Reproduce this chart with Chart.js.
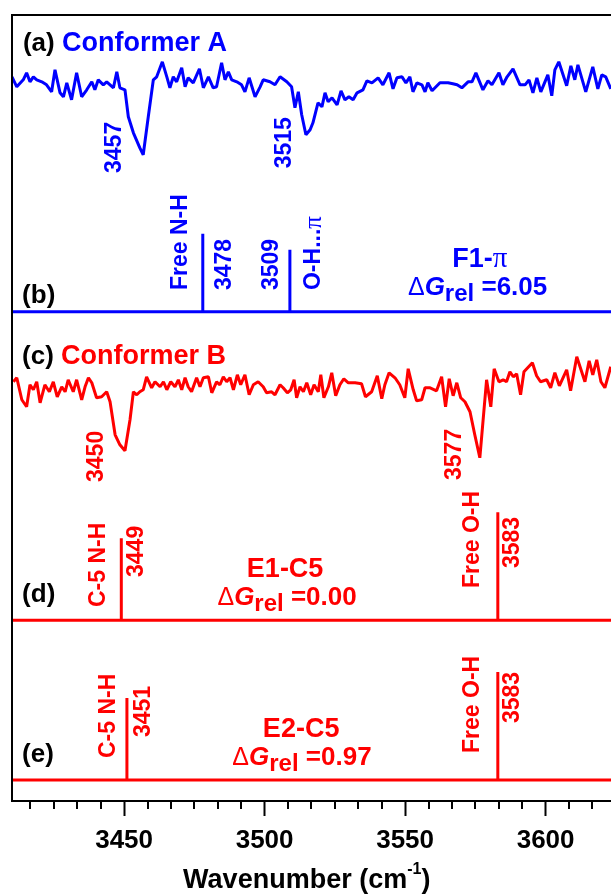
<!DOCTYPE html>
<html>
<head>
<meta charset="utf-8">
<script src="https://cdn.jsdelivr.net/npm/chart.js@4.4.0/dist/chart.umd.min.js"></script>
<style>
html, body { margin: 0; padding: 0; background: #fff; overflow: hidden; }
#spectra { display: block; }
</style>
</head>
<body>
<canvas id="spectra" width="640" height="896"></canvas>
<script>
// wavenumber range shown (cm-1)
const xMin = 3410.1
const xMax = 3633.6
const majorStep = 50
const minorStep = 50 / 6

// (a) conformer A, IR-UV depletion trace, arb. units, baseline 0
const waveA = [3410.1,3411.8,3414.1,3415.3,3416.5,3417.7,3418.9,3420.7,3422.4,3424.2,
3425.4,3427.2,3428.4,3429.6,3431.3,3433.1,3434.9,3436.7,3438.5,3439.6,
3440.8,3442.6,3443.8,3446.2,3447.4,3448.5,3450.3,3451.5,3453.3,3455.6,
3456.8,3458.6,3460.4,3461.6,3463.6,3465.2,3466.3,3467.5,3468.7,3470.5,
3471.7,3472.8,3474.6,3476.8,3478.2,3480.0,3481.7,3482.9,3484.7,3485.9,
3487.1,3488.3,3490.1,3491.8,3493.0,3494.5,3496.6,3498.4,3499.5,3501.9,
3503.7,3505.5,3507.9,3509.6,3510.8,3512.0,3513.2,3514.7,3516.2,3517.2,
3519.0,3520.4,3521.5,3522.6,3524.0,3525.8,3527.2,3528.6,3530.0,3531.5,
3532.9,3535.0,3536.4,3538.2,3540.4,3542.1,3544.3,3545.7,3547.1,3548.9,
3550.3,3551.7,3552.8,3554.2,3556.0,3557.1,3558.1,3559.6,3562.4,3565.3,
3567.0,3568.5,3570.2,3572.4,3573.8,3575.2,3577.7,3579.5,3580.9,3583.4,
3584.8,3586.3,3588.4,3590.9,3592.7,3594.1,3595.5,3596.9,3598.3,3600.8,
3602.2,3603.3,3604.7,3607.5,3609.0,3610.4,3611.5,3614.3,3616.8,3618.6,
3620.0,3621.4,3623.2]
const signalA = [5,-5,2,9,0,5,2,0,-3,-10,
12,-11,-15,-1,-18,9,-15,-8,0,-8,
2,-3,0,-6,10,-6,-8,-35,-51,-66,
-73,-35,2,5,20,5,-6,5,0,14,
-5,4,-1,13,-6,5,-6,-5,19,2,
10,2,0,-3,-10,4,-15,-5,2,0,
-3,5,0,-5,-26,-10,-33,-53,-48,-41,
-21,-25,-11,-20,-16,-23,-9,-18,-15,-18,
-11,-8,1,-1,4,-3,9,-7,4,5,
-1,5,-10,-1,-3,-10,-1,-9,-1,-1,
-2,-3,-6,0,0,9,-8,1,-3,9,
-3,5,13,-3,-3,2,-11,4,-10,7,
-14,12,20,-4,16,2,17,-10,15,-7,
7,5,-7]

// (c) conformer B
const waveB = [3410.6,3411.8,3413.6,3415.3,3416.5,3417.7,3418.9,3420.1,3421.8,3423.4,
3424.8,3426.2,3427.8,3429.0,3430.1,3431.9,3433.1,3434.9,3436.1,3437.3,
3438.5,3440.2,3442.0,3443.8,3445.0,3446.8,3448.5,3450.3,3452.1,3453.3,
3454.5,3455.6,3456.8,3458.0,3459.8,3461.0,3462.8,3464.0,3465.2,3466.6,
3468.1,3469.3,3470.5,3471.7,3472.8,3474.0,3475.8,3477.0,3478.2,3480.0,
3481.2,3482.9,3484.1,3485.3,3486.5,3487.7,3488.9,3490.3,3491.5,3493.0,
3494.5,3496.0,3497.7,3499.5,3500.7,3502.5,3503.7,3505.5,3506.6,3508.1,
3509.3,3510.5,3511.4,3512.6,3513.8,3515.0,3516.4,3517.6,3519.1,3520.0,
3521.1,3522.7,3523.9,3525.3,3526.8,3528.2,3529.8,3532.2,3534.5,3535.9,
3538.1,3540.1,3541.7,3542.8,3544.3,3546.4,3548.1,3549.9,3551.1,3552.9,
3554.1,3555.9,3557.1,3558.9,3561.2,3563.0,3564.4,3565.7,3567.1,3568.4,
3569.8,3571.3,3573.1,3574.8,3576.6,3579.0,3580.5,3581.7,3583.4,3584.9,
3586.1,3587.3,3588.5,3589.7,3591.1,3592.3,3595.3,3596.8,3598.2,3600.4,
3601.8,3603.3,3604.9,3607.5,3608.9,3611.1,3614.0,3615.5,3616.8,3618.2,
3619.7,3621.1,3623.2]
const signalB = [5,9,-13,-20,2,-3,5,-16,2,-5,
5,-10,0,-5,7,-5,7,-13,0,9,
4,-11,-10,-5,-15,-48,-58,-64,-33,-5,
-8,-5,-3,10,-1,5,0,5,-3,5,
0,7,-3,9,0,-5,9,0,9,10,
-6,5,2,10,5,9,-3,12,2,12,
-8,2,5,0,-6,-5,-8,2,-1,-6,
-3,7,-11,0,-5,4,-8,2,-5,12,
-11,0,14,-9,2,8,4,4,3,-10,
-5,11,-12,2,14,9,2,-11,18,-3,
-14,-13,-1,-1,-4,10,-20,8,-9,4,
-11,-15,-25,-48,-71,7,-20,18,5,7,
5,15,10,13,-8,15,24,11,5,7,
-1,14,1,17,-4,30,5,26,12,27,
5,-1,20]

// calculated harmonic frequencies (sticks) and relative intensities
const sticksF1 = [3478, 3509]
const intensF1 = [78, 62]
const sticksE1 = [3449, 3583]
const intensE1 = [82, 108]
const sticksE2 = [3451, 3583]
const intensE2 = [82, 108]

// stacking: baseline of each panel on a 0-100 display axis, and intensity scale
const offsetA = 91.5
const offsetF1 = 62.25
const offsetB = 52.7
const offsetE1 = 23.0
const offsetE2 = 2.67
const scaleY = 1 / 7.86

const BLUE = "#0000ff"
const RED = "#ff0000"
const BLACK = "#000000"
const SANS = '"Liberation Sans", Arial, Helvetica, sans-serif'
const SERIF = '"Liberation Serif", "Times New Roman", serif'

function trace(waves, signal, offset) {
    return waves.map((w, i) => ({ x: w, y: offset + signal[i] * scaleY }))
}

function sticks(pos, heights, offset) {
    const pts = [{ x: xMin, y: offset }]
    pos.forEach((p, i) => {
        pts.push({ x: p, y: offset }, { x: p, y: offset + heights[i] * scaleY }, { x: p, y: offset })
    })
    pts.push({ x: xMax, y: offset })
    return pts
}

function lineSet(data, color) {
    return {
        data: data,
        borderColor: color,
        borderWidth: 3,
        pointRadius: 0,
        tension: 0,
        fill: false,
        borderJoinStyle: "bevel"
    }
}

function drawRuns(ctx, runs, x, y, align) {
    let total = 0
    runs.forEach(r => {
        ctx.font = r.font
        r.w = ctx.measureText(r.text).width
        total += r.w
    })
    let cx = align == "center" ? x - total / 2 : x
    runs.forEach(r => {
        ctx.font = r.font
        ctx.fillStyle = r.color
        ctx.fillText(r.text, cx, y + (r.dy || 0))
        cx += r.w
    })
}

function b(size) { return `bold ${size}px ${SANS}` }

function deltaG(value, color) {
    return [
        { text: "\u0394", font: `normal 25px ${SANS}`, color: color },
        { text: "G", font: `italic bold 26px ${SANS}`, color: color },
        { text: "rel", font: b(24), color: color, dy: 6 },
        { text: " =" + value, font: b(26), color: color }
    ]
}

const annotations = {
    id: "annotations",
    afterDatasetsDraw(chart) {
        const ctx = chart.ctx
        const xs = chart.scales.x
        const ys = chart.scales.y
        const area = chart.chartArea
        const at = (w, v) => [xs.getPixelForValue(w), ys.getPixelForValue(v)]

        ctx.save()
        // frame
        ctx.strokeStyle = BLACK
        ctx.lineWidth = 2
        ctx.strokeRect(area.left, area.top, area.right - area.left, area.bottom - area.top)

        // minor ticks
        ctx.beginPath()
        for (let v = 3450 - 4 * minorStep; v < xMax; v += minorStep) {
            if (Math.abs((v - 3450) / majorStep - Math.round((v - 3450) / majorStep)) < 1e-6) continue
            const px = Math.round(xs.getPixelForValue(v))
            ctx.moveTo(px, area.bottom)
            ctx.lineTo(px, area.bottom + 8)
        }
        ctx.stroke()

        // horizontal texts
        ctx.textBaseline = "alphabetic"
        const left = (runs, w, v) => { const p = at(w, v); drawRuns(ctx, runs, p[0], p[1], "left") }
        const center = (runs, w, v) => { const p = at(w, v); drawRuns(ctx, runs, p[0], p[1], "center") }

        left([{ text: "(a) ", font: b(26), color: BLACK }, { text: "Conformer A", font: b(27), color: BLUE }], 3414.0, 95.4)
        left([{ text: "(b)", font: b(26), color: BLACK }], 3413.7, 63.4)
        left([{ text: "(c) ", font: b(26), color: BLACK }, { text: "Conformer B", font: b(27), color: RED }], 3413.7, 55.6)
        left([{ text: "(d)", font: b(26), color: BLACK }], 3413.7, 25.3)
        left([{ text: "(e)", font: b(26), color: BLACK }], 3413.7, 4.9)

        center([{ text: "F1-", font: b(27), color: BLUE }, { text: "\u03c0", font: `normal 29px ${SERIF}`, color: BLUE }], 3576.6, 68.0)
        center(deltaG("6.05", BLUE), 3575.8, 64.38)
        center([{ text: "E1-C5", font: b(27), color: RED }], 3507.3, 28.5)
        center(deltaG("0.00", RED), 3508.0, 25.0)
        center([{ text: "E2-C5", font: b(27), color: RED }], 3513.0, 8.2)
        center(deltaG("0.97", RED), 3513.3, 4.6)

        // axis title with superscript
        center([
            { text: "Wavenumber (cm", font: b(27), color: BLACK },
            { text: "-1", font: b(16), color: BLACK, dy: -14 },
            { text: ")", font: b(27), color: BLACK }
        ], 3515.0, -11.1)

        // vertical texts
        const up = (runs, w, v) => {
            const p = at(w, v)
            ctx.save()
            ctx.translate(p[0], p[1])
            ctx.rotate(-Math.PI / 2)
            ctx.textBaseline = "middle"
            drawRuns(ctx, runs, 0, 0, "left")
            ctx.restore()
        }
        const one = (text, color) => [{ text: text, font: b(23), color: color }]

        up(one("3457", BLUE), 3446.8, 79.9)
        up(one("3515", BLUE), 3507.3, 80.5)
        up(one("Free N-H", BLUE), 3470.2, 65.01)
        up(one("3478", BLUE), 3485.7, 65.01)
        up(one("3509", BLUE), 3502.6, 65.01)
        up([{ text: "O-H...", font: b(23), color: BLUE }, { text: "\u03c0", font: `normal 25px ${SERIF}`, color: BLUE }], 3517.6, 65.01)

        up(one("3450", RED), 3440.4, 40.59)
        up(one("3577", RED), 3567.8, 40.84)

        up(one("C-5 N-H", RED), 3441.1, 24.68)
        up(one("3449", RED), 3454.3, 28.5)
        up(one("Free O-H", RED), 3574.2, 27.1)
        up(one("3583", RED), 3588.4, 29.64)

        up(one("C-5 N-H", RED), 3444.6, 5.47)
        up(one("3451", RED), 3457.0, 8.14)
        up(one("Free O-H", RED), 3574.2, 6.11)
        up(one("3583", RED), 3588.4, 9.92)

        ctx.restore()
    }
}

new Chart(document.getElementById("spectra"), {
    type: "line",
    data: {
        datasets: [
            lineSet(trace(waveA, signalA, offsetA), BLUE),
            lineSet(sticks(sticksF1, intensF1, offsetF1), BLUE),
            lineSet(trace(waveB, signalB, offsetB), RED),
            lineSet(sticks(sticksE1, intensE1, offsetE1), RED),
            lineSet(sticks(sticksE2, intensE2, offsetE2), RED)
        ]
    },
    options: {
        responsive: false,
        animation: false,
        events: [],
        layout: {
            padding: { left: 12, top: 15, right: 0, bottom: 0 }
        },
        plugins: {
            legend: { display: false },
            tooltip: { enabled: false }
        },
        scales: {
            x: {
                type: "linear",
                min: xMin,
                max: xMax,
                position: "bottom",
                afterFit: scale => { scale.height = 95 },
                border: { display: true, color: BLACK, width: 2 },
                grid: {
                    drawOnChartArea: false,
                    drawTicks: true,
                    tickLength: 15,
                    tickWidth: 2,
                    tickColor: BLACK
                },
                ticks: {
                    stepSize: majorStep,
                    includeBounds: false,
                    autoSkip: false,
                    maxRotation: 0,
                    padding: 9,
                    color: BLACK,
                    font: { family: SANS, size: 26, weight: "bold" },
                    callback: v => String(v)
                }
            },
            y: {
                display: false,
                min: 0,
                max: 100
            }
        }
    },
    plugins: [annotations]
})
</script>
</body>
</html>
